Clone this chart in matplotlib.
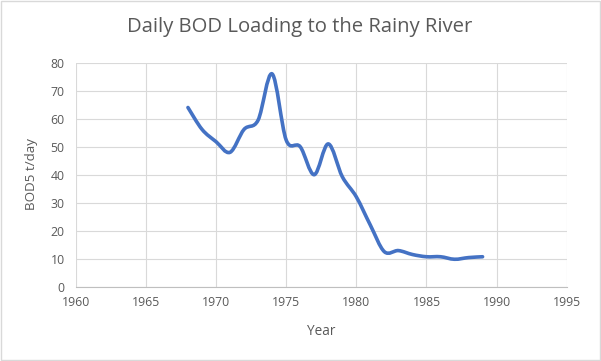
import numpy as np
import matplotlib
matplotlib.use("Agg")
import matplotlib.pyplot as plt
from matplotlib.path import Path
from matplotlib.patches import PathPatch, Rectangle

years = [1968, 1969, 1970, 1971, 1972, 1973, 1974, 1975, 1976, 1977, 1978,
         1979, 1980, 1981, 1982, 1983, 1984, 1985, 1986, 1987, 1988, 1989]
bod5 = [64.0, 56.2, 51.8, 48.0, 56.2, 59.5, 76.0, 52.4, 50.0, 40.0, 51.0,
        39.3, 32.1, 22.0, 12.5, 12.9, 11.5, 10.7, 10.7, 9.8, 10.4, 10.7]
xticks = [1960, 1965, 1970, 1975, 1980, 1985, 1990, 1995]
yticks = [0, 10, 20, 30, 40, 50, 60, 70, 80]

plt.rcParams['font.family'] = ['Open Sans', 'DejaVu Sans']
grey = '#595959'

fig = plt.figure(figsize=(6.01, 3.61), dpi=100)
ax = fig.add_axes([0.126, 0.2058, 0.817, 0.6205])

# Smoothed line (Excel-like Catmull-Rom bezier)
x = np.array(years, float)
y = np.array(bod5, float)
n = len(x)
verts = [(x[0], y[0])]
codes = [Path.MOVETO]
t = 1.0 / 6.0
for i in range(n - 1):
    p0 = (x[i - 1], y[i - 1]) if i > 0 else (x[i], y[i])
    p1 = (x[i], y[i])
    p2 = (x[i + 1], y[i + 1])
    p3 = (x[i + 2], y[i + 2]) if i + 2 < n else (x[i + 1], y[i + 1])
    c1 = (p1[0] + (p2[0] - p0[0]) * t, p1[1] + (p2[1] - p0[1]) * t)
    c2 = (p2[0] - (p3[0] - p1[0]) * t, p2[1] - (p3[1] - p1[1]) * t)
    verts += [c1, c2, p2]
    codes += [Path.CURVE4] * 3
patch = PathPatch(Path(verts, codes), facecolor='none', edgecolor='#4472C4',
                  lw=2.6, capstyle='round', joinstyle='round', zorder=3)
ax.add_patch(patch)

ax.set_xlim(1960, 1995)
ax.set_ylim(0, 80)
ax.set_xticks(xticks)
ax.set_yticks(yticks)
ax.grid(True, color='#d9d9d9', lw=0.8)
ax.set_axisbelow(True)
for s in ['top', 'right', 'left']:
    ax.spines[s].set_visible(False)
ax.spines['bottom'].set_color('#bfbfbf')
ax.spines['bottom'].set_linewidth(0.8)
ax.tick_params(axis='both', length=0, colors=grey, labelsize=8.8, pad=7)
ax.tick_params(axis='y', pad=8)

fig.text(0.499, 0.925, 'Daily BOD Loading to the Rainy River', ha='center',
         va='center', fontsize=14.6, color=grey)
fig.text(0.534, 0.083, 'Year', ha='center', va='center', fontsize=9.8, color=grey)
fig.text(0.053, 0.518, 'BOD5 t/day', ha='center', va='center', rotation=90,
         fontsize=9.6, color=grey)

fig.patches.append(Rectangle((0.0015, 0.0025), 0.997, 0.995, transform=fig.transFigure,
                             fill=False, edgecolor='#d9d9d9', lw=1.0))
fig.savefig('out.png', dpi=100)
